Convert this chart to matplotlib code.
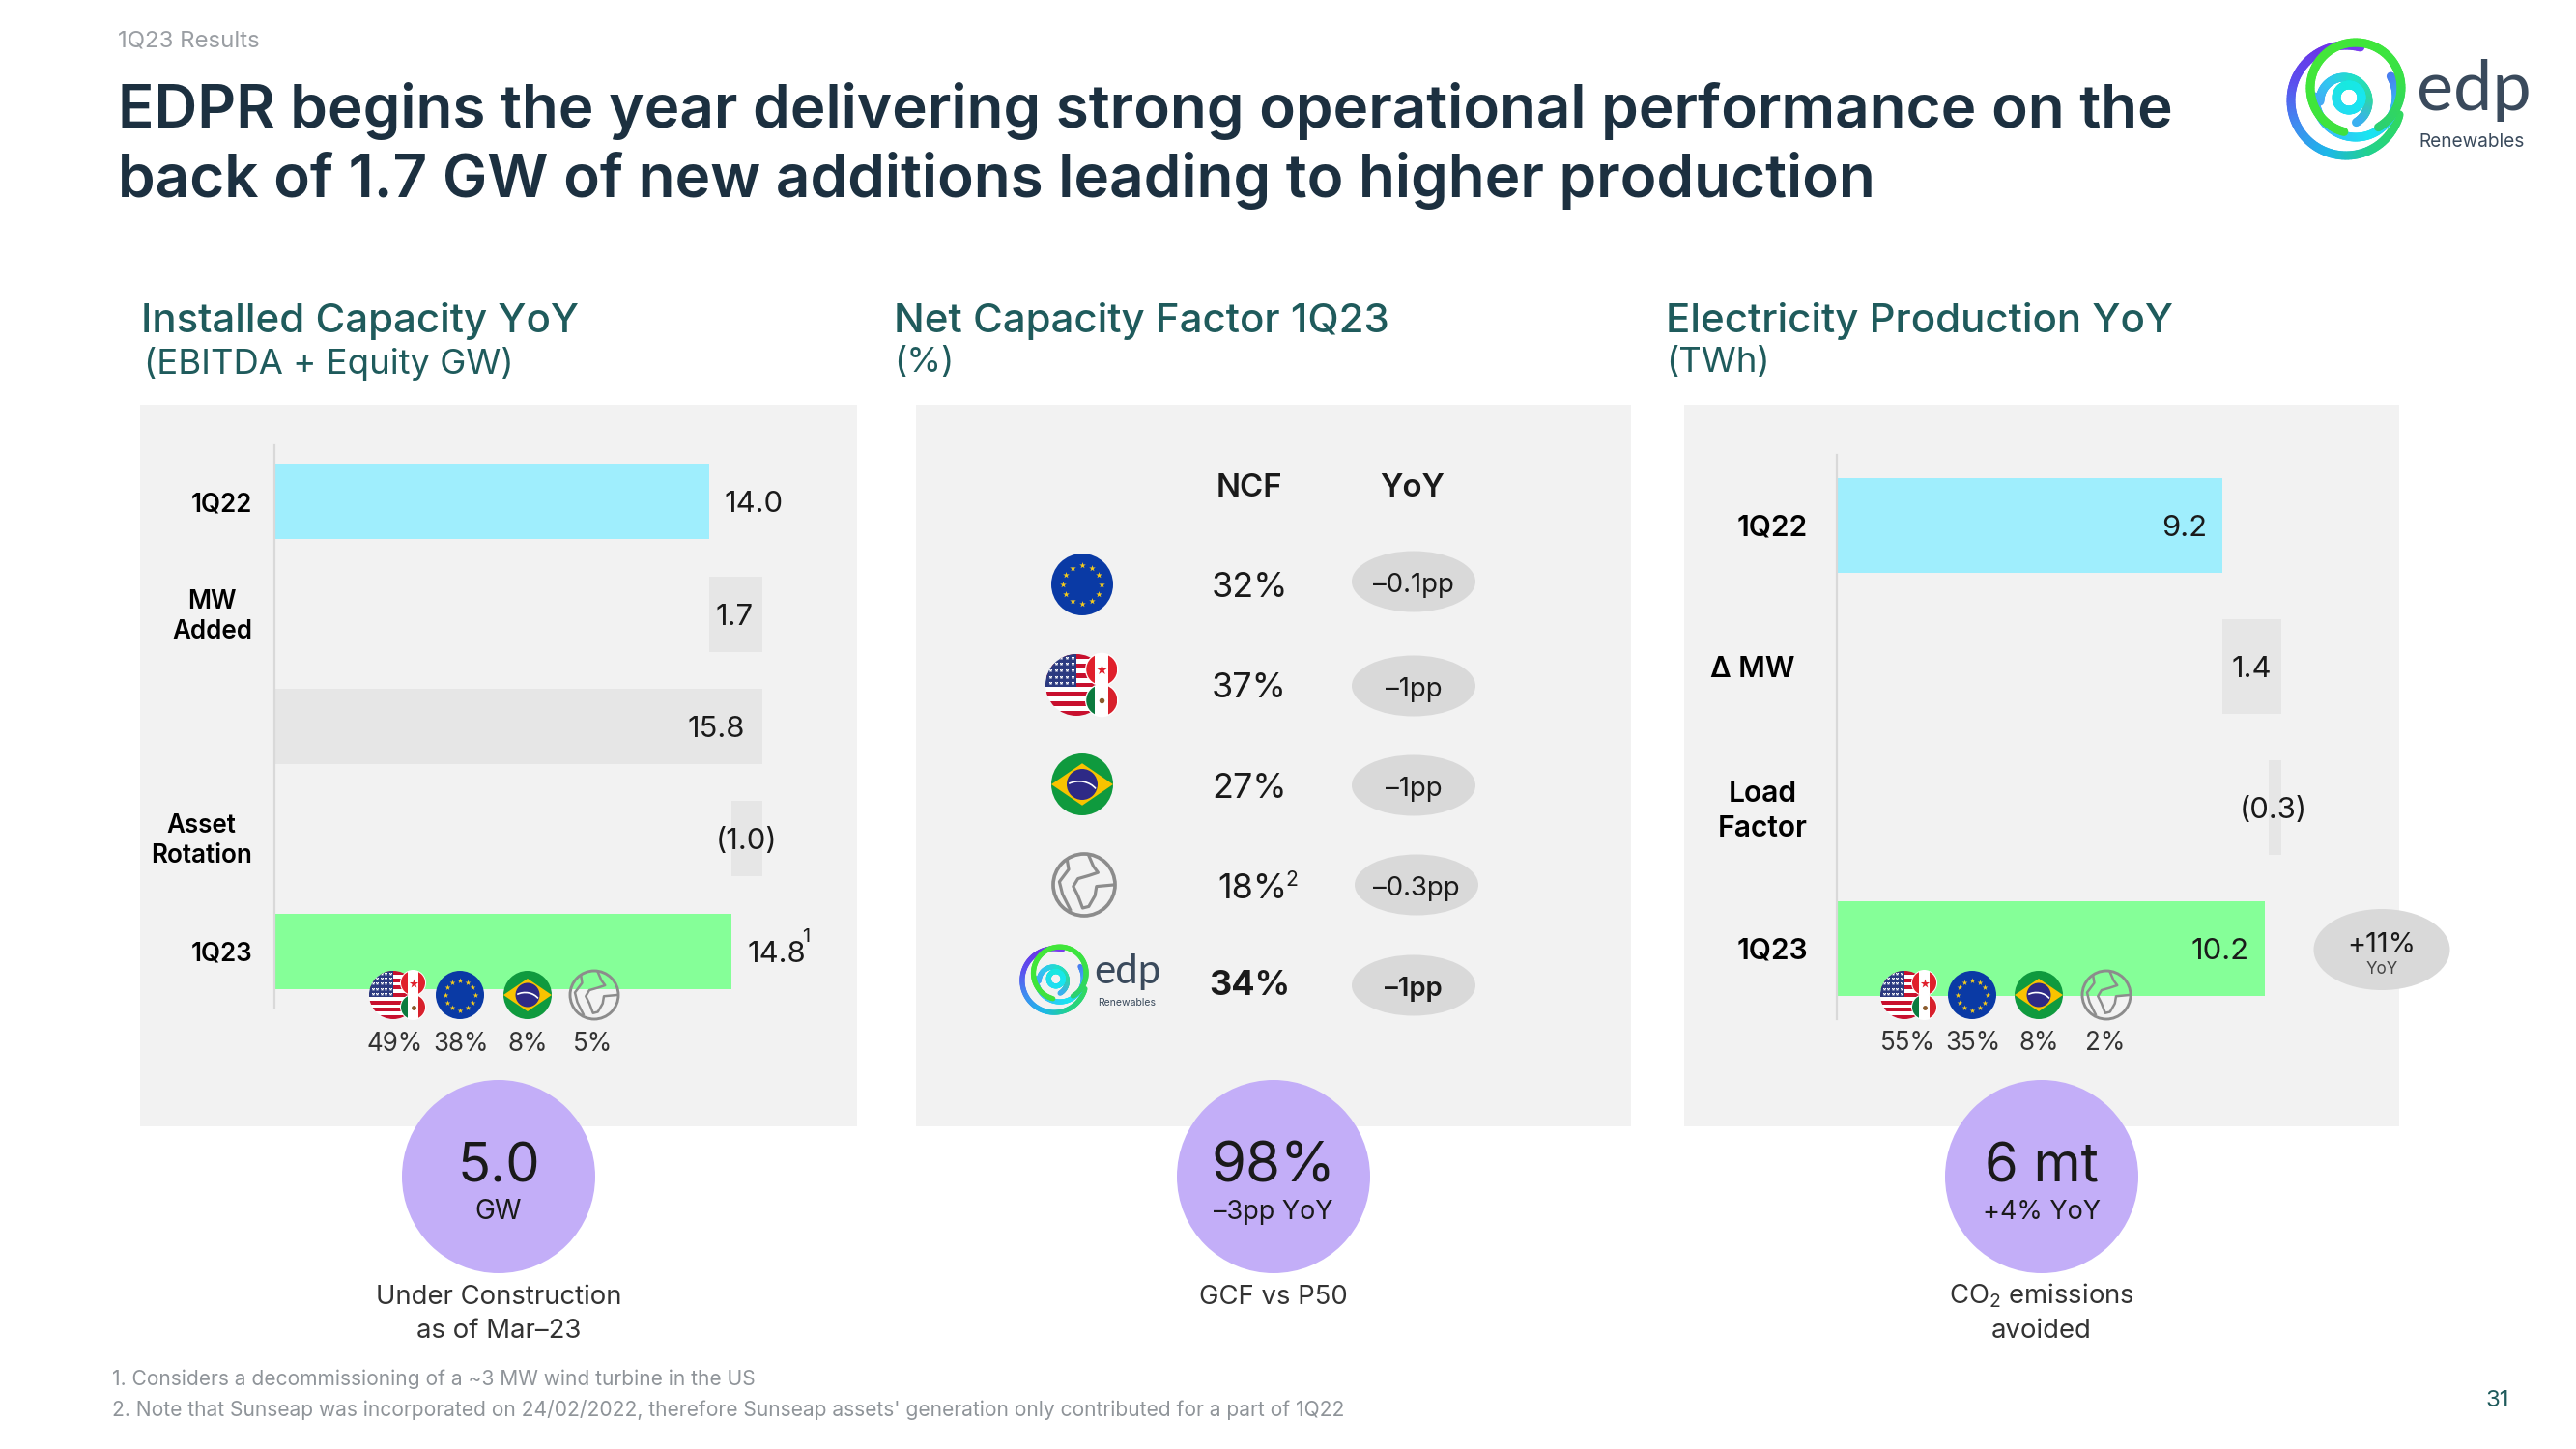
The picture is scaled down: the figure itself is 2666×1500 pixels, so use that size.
import numpy as np
import matplotlib
matplotlib.use("Agg")
import matplotlib.pyplot as plt
from matplotlib.patches import Circle, Ellipse, Rectangle, Polygon, Arc
from matplotlib.collections import LineCollection
from matplotlib.colors import to_rgb
from matplotlib.transforms import ScaledTranslation

plt.rcParams['font.family'] = ['Inter', 'DejaVu Sans']
plt.rcParams['mathtext.default'] = 'regular'

# ---------- data ----------
cap_labels = ['1Q22', 'MW\nAdded', '', 'Asset\nRotation', '1Q23']
cap_widths = [14.08, 1.72, 15.8, 1.0, 14.8]
cap_lefts = [0, 14.08, 0, 14.8, 0]
cap_text = ['14.0', '1.7', '15.8', '(1.0)', '14.8']
cap_mix = ['49%', '38%', '8%', '5%']

prod_labels = ['1Q22', 'Δ MW', 'Load\nFactor', '1Q23']
prod_widths = [9.2, 1.4, 0.3, 10.2]
prod_lefts = [0, 9.2, 10.3, 0]
prod_text = ['9.2', '1.4', '(0.3)', '10.2']
prod_mix = ['55%', '35%', '8%', '2%']

ncf_values = ['32%', '37%', '27%', '18%', '34%']
ncf_yoy = ['–0.1pp', '–1pp', '–1pp', '–0.3pp', '–1pp']

CYAN, GREEN, GREY = '#9feefd', '#85ff98', '#e6e6e6'
cap_colors = [CYAN, GREY, GREY, GREY, GREEN]
prod_colors = [CYAN, GREY, GREY, GREEN]
PANEL, PILL, PURPLE = '#f2f2f2', '#d9d9d9', '#c3aef8'
NAVY, TEAL, INK, MUTED = '#1c3040', '#1f5b5c', '#1a1a1a', '#8f9499'

W, H = 2666, 1500
fig = plt.figure(figsize=(W / 100, H / 100), dpi=100, facecolor='white')

def px_axes(z):
    a = fig.add_axes([0, 0, 1, 1], zorder=z)
    a.set_xlim(0, W); a.set_ylim(H, 0); a.axis('off'); a.patch.set_alpha(0)
    return a

bg = px_axes(0)
ov = px_axes(3)

for x0, x1 in [(145, 887), (948, 1688), (1743, 2483)]:
    bg.add_patch(Rectangle((x0, 419), x1 - x0, 747, fc=PANEL, ec='none'))

def T(x, y, s, size, color=INK, ha='center', va='center', weight='normal', dy=3, **kw):
    return ov.text(x, y + dy, s, fontsize=size * 0.72, color=color, ha=ha, va=va, fontweight=weight, **kw)

def bar_axes(x0, x1, y0, y1, xmax, n):
    a = fig.add_axes([x0 / W, 1 - y1 / H, (x1 - x0) / W, (y1 - y0) / H], zorder=1)
    a.patch.set_alpha(0)
    a.set_xlim(0, xmax); a.set_ylim(n - 0.5, -0.5)
    for s in ['top', 'right', 'bottom']:
        a.spines[s].set_visible(False)
    a.spines['left'].set_color('#d9d9d9'); a.spines['left'].set_linewidth(1.6)
    a.set_xticks([])
    return a

def lbl(a, labels, pads, size, spacing):
    a.set_yticks(range(len(labels)))
    a.set_yticklabels(labels, fontsize=size * 0.72, fontweight='semibold', color='black',
                      multialignment='center', linespacing=spacing)
    a.tick_params(axis='y', length=0)
    for t, p, s in zip(a.yaxis.get_major_ticks(), pads, labels):
        t.set_pad(p * 0.72)
        if '\n' in s:
            t.label1.set_transform(t.label1.get_transform() + ScaledTranslation(0, 0.03, fig.dpi_scale_trans))

# ---------- capacity ----------
a1 = bar_axes(284, 789, 461, 1043, 15.8, 5)
a1.barh(range(5), cap_widths, left=cap_lefts, height=0.67, color=cap_colors)
lbl(a1, cap_labels, [23] * 5, 26, 1.25)
for i, s in enumerate(cap_text):
    right = cap_lefts[i] + cap_widths[i]
    dx = {0: 15, 1: -29, 2: -18, 3: -16, 4: 16}[i]
    ha = {0: 'left', 1: 'center', 2: 'right', 3: 'center', 4: 'left'}[i]
    a1.annotate(s, (right, i), xytext=(dx * 0.72, -2.2), textcoords='offset points', ha=ha, va='center',
                fontsize=31 * 0.72, color=INK)
T(834, 967, '1', 20)

# ---------- production ----------
a3 = bar_axes(1901, 2361, 471, 1055, 10.6, 4)
a3.barh(range(4), prod_widths, left=prod_lefts, height=0.67, color=prod_colors)
lbl(a3, prod_labels, [30, 44, 30, 30], 30, 1.35)
for i, s in enumerate(prod_text):
    right = prod_lefts[i] + prod_widths[i]
    dx = {0: -40, 1: -31, 2: -8, 3: -46}[i]
    a3.annotate(s, (right, i), xytext=(dx * 0.72, -2.2), textcoords='offset points', ha='center', va='center',
                fontsize=31 * 0.72, color=INK)

ov.add_patch(Ellipse((2465, 983), 141, 84, fc=PILL, ec='none'))
T(2465, 975, '+11%', 29)
T(2465, 1001, 'YoY', 17, color='#444444')

# ---------- flags ----------
def flag_eu(cx, cy, r):
    ov.add_patch(Circle((cx, cy), r, fc='#0a3aa5', ec='none'))
    th = np.arange(12) * np.pi / 6
    ov.scatter(cx + .62 * r * np.cos(th), cy + .62 * r * np.sin(th), marker='*', s=r * 0.75, c='#f6cc1c', linewidths=0)

def flag_br(cx, cy, r):
    ov.add_patch(Circle((cx, cy), r, fc='#0f9a3e', ec='none'))
    dia = Polygon([(cx - r, cy), (cx, cy - .68 * r), (cx + r, cy), (cx, cy + .68 * r)], fc='#f8c300', ec='none')
    ov.add_patch(dia)
    dia.set_clip_path(Circle((cx, cy), r, transform=ov.transData))
    ov.add_patch(Circle((cx, cy), .5 * r, fc='#2e2a86', ec='none'))
    ov.add_patch(Arc((cx - .1 * r, cy + .45 * r), 1.3 * r, 1.1 * r, theta1=235, theta2=330, color='white', lw=1.2))

def flag_world(cx, cy, r):
    c = '#8c8c8c'
    ov.add_patch(Circle((cx, cy), r, fc='none', ec=c, lw=r / 12))
    k = np.array([[.15, -.95], [.3, -.6], [.45, -.4], [.15, -.3], [-.2, -.2], [-.35, .05], [-.2, .35], [-.05, .75],
                  [.15, .7], [.35, .35], [.4, .05], [.95, .0]])
    ov.plot(cx + r * k[:, 0], cy + r * k[:, 1], color=c, lw=r / 14)
    k2 = np.array([[-.55, -.8], [-.5, -.5], [-.8, -.1], [-.7, .3], [-.45, .8]])
    ov.plot(cx + r * k2[:, 0], cy + r * k2[:, 1], color=c, lw=r / 14)

def flag_na(cx, cy, r):
    clip = Circle((cx, cy), r, transform=ov.transData)
    for i in range(13):
        p = Rectangle((cx - r, cy - r + i * 2 * r / 13), 2 * r, 2 * r / 13, fc='#c8102e' if i % 2 == 0 else 'white', ec='none')
        ov.add_patch(p); p.set_clip_path(clip)
    p = Rectangle((cx - r, cy - r), r, 2 * r * 7 / 13, fc='#2b3a80', ec='none')
    ov.add_patch(p); p.set_clip_path(clip)
    xs, ys = np.meshgrid(np.linspace(cx - .85 * r, cx - .12 * r, 5), np.linspace(cy - .88 * r, cy - .05 * r, 5))
    ov.scatter(xs.ravel(), ys.ravel(), marker='*', s=r * .25, c='white', linewidths=0, clip_path=clip)
    sr = .5 * r
    for k, (c1, c2, c3) in enumerate([('#e0202c', 'white', '#e0202c'), ('#0b7a3e', 'white', '#d8202c')]):
        mx, my = cx + r * .82, cy + (-.5 if k == 0 else .5) * r
        ov.add_patch(Circle((mx, my), sr * 1.08, fc='white', ec='none'))
        clip2 = Circle((mx, my), sr, transform=ov.transData)
        for j, c in enumerate([c1, c2, c3]):
            w = 2 * sr * (.28 if j != 1 else .44)
            xx = mx - sr + (0 if j == 0 else (.56 * sr if j == 1 else 1.44 * sr))
            p = Rectangle((xx, my - sr), w, 2 * sr, fc=c, ec='none')
            ov.add_patch(p); p.set_clip_path(clip2)
        ov.scatter([mx], [my], marker='o' if k else '*', s=r * (.5 if k else 2), c='#8a5a2b' if k else '#e0202c', linewidths=0)

def ring(cx, cy, r, stops, t0, t1, lw):
    th = np.radians(np.linspace(t0, t1, 90))
    pts = np.c_[cx + r * np.cos(th), cy - r * np.sin(th)]
    seg = np.stack([pts[:-1], pts[1:]], axis=1)
    sc = np.array([to_rgb(c) for c in stops])
    u = np.linspace(0, 1, 89)
    col = np.array([np.interp(u, np.linspace(0, 1, len(sc)), sc[:, i]) for i in range(3)]).T
    ov.add_collection(LineCollection(seg, colors=col, linewidths=lw, capstyle='round'))

def logo(cx, cy, s):
    lw = 9 * s * .72
    ring(cx, cy, 57 * s, ['#7a3cf0', '#6a35e8', '#5c50ee', '#3f8cf0', '#1cb8e8', '#22d28c', '#30d860'], 75, 345, lw)
    ring(cx + 10 * s, cy - 4 * s, 42 * s, ['#4a7cf0', '#35c0f8', '#19e6f0', '#35c0f8', '#45a8f5'], 30, -180, lw)
    ring(cx - 2 * s, cy + 1 * s, 25 * s, ['#45a8f5', '#30c8f0', '#20e0c8', '#30d8a0', '#3ab0f0'], 180, -60, lw)
    ring(cx + 3 * s, cy - 3 * s, 13 * s, ['#18e6f0', '#18e8e0', '#25dcf0', '#18e6f0'], 0, 360, lw)
    ring(cx + 10 * s, cy - 13 * s, 47 * s, ['#3fe040', '#3fe63a', '#44e63a', '#3fe63a', '#38e04a', '#2cd070'], 255, -60, lw)

y_flags = 1030
def flag_row(xs):
    flag_na(xs[0], y_flags, 25); flag_eu(xs[1], y_flags, 25); flag_br(xs[2], y_flags, 25); flag_world(xs[3], y_flags, 25)

flag_row([407, 476, 546, 615])
for x, s in zip([409, 477, 546, 614], cap_mix):
    T(x, 1078, s, 26, color='#333333', dy=3)
flag_row([1971, 2041, 2110, 2180])
for x, s in zip([1974, 2042, 2110, 2179], prod_mix):
    T(x, 1079, s, 26, color='#333333', dy=1)

# ---------- NCF table ----------
T(1293, 503, 'NCF', 33, weight='semibold')
T(1462, 503, 'YoY', 33, weight='semibold')
rows = [605, 710, 813, 918, 1018]
pillx = [1463, 1463, 1463, 1466, 1463]
pilly = [602, 710, 813, 916, 1020]
for i in range(5):
    ov.add_patch(Ellipse((pillx[i], pilly[i]), 128, 63, fc=PILL, ec='none'))
    wt = 'bold' if i == 4 else 'normal'
    T(1293 if i != 3 else 1296, rows[i], ncf_values[i], 36, weight=wt)
    T(pillx[i], pilly[i] + 1, ncf_yoy[i], 27.5, weight='semibold' if i == 4 else 'normal')
T(1337, 908, '2', 21)
flag_eu(1120, 605, 32)
flag_na(1114, 709, 32)
flag_br(1120, 812, 32)
flag_world(1122, 916, 32)
logo(1091, 1015, 36 / 62)
T(1167, 1006, 'edp', 42, color='#3a4a5c', family='Lato', dy=0)
T(1166, 1038, 'Renewables', 10.5, color='#3a4a5c', dy=0)

# ---------- circles ----------
for x in [516, 1318, 2113]:
    ov.add_patch(Circle((x, 1218), 100, fc=PURPLE, ec='none'))
T(516, 1205, '5.0', 56); T(516, 1252, 'GW', 28)
T(1318, 1205, '98%', 58); T(1318, 1252, '–3pp YoY', 27)
T(2113, 1205, '6 mt', 56); T(2113, 1252, '+4% YoY', 27)
T(516, 1340, 'Under Construction', 27.5, color='#333333'); T(516, 1375, 'as of Mar–23', 27.5, color='#333333')
T(1318, 1340, 'GCF vs P50', 27.5, color='#333333')
T(2113, 1341, 'CO$_2$ emissions', 27.5, color='#333333', dy=0); T(2113, 1375, 'avoided', 27.5, color='#333333')

# ---------- headings ----------
T(122, 42, '1Q23 Results', 24, color='#9a9ea3', ha='left', dy=1)
T(122, 110, 'EDPR begins the year delivering strong operational performance on the', 62, color=NAVY, ha='left', weight='semibold', dy=5)
T(122, 182, 'back of 1.7 GW of new additions leading to higher production', 62, color=NAVY, ha='left', weight='semibold', dy=5)
for x, a, b in [(146, 'Installed Capacity YoY', '(EBITDA + Equity GW)'),
                (925, 'Net Capacity Factor 1Q23', '(%)'),
                (1724, 'Electricity Production YoY', '(TWh)')]:
    T(x, 330, a, 42, color=TEAL, ha='left', weight='medium')
    T(x + (3 if x == 146 else 0), 373, b, 36.5, color=TEAL, ha='left')
T(116, 1425, '1. Considers a decommissioning of a ~3 MW wind turbine in the US', 21, color=MUTED, ha='left')
T(116, 1459, "2. Note that Sunseap was incorporated on 24/02/2022, therefore Sunseap assets' generation only contributed for a part of 1Q22", 21, color=MUTED, ha='left', dy=0)
T(2585, 1447, '31', 24, color=TEAL)

logo(2428, 104, 1)
T(2560, 94, 'edp', 72, color='#3a4a5c', family='Lato', dy=0)
T(2558, 144, 'Renewables', 19, color='#3a4a5c')

fig.savefig('out.png', dpi=100)
